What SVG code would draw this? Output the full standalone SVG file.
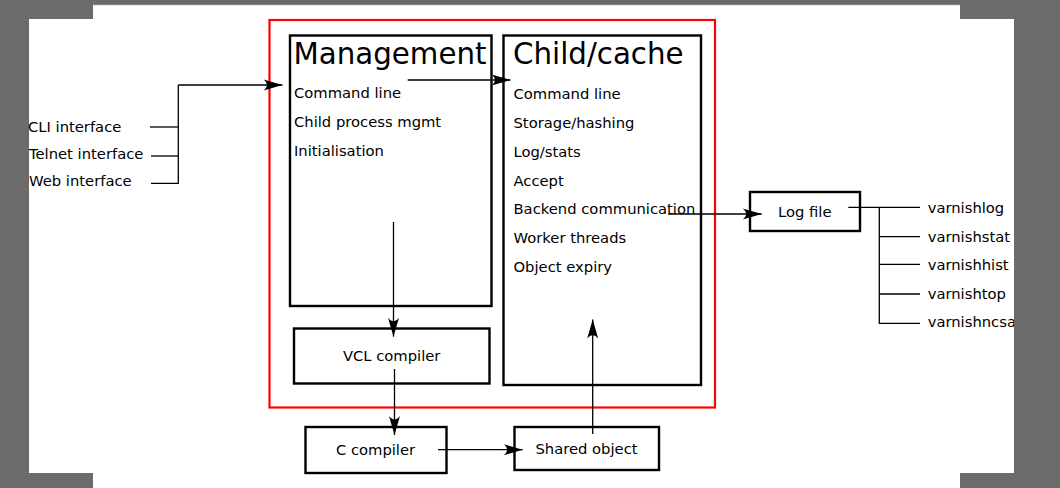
<svg xmlns="http://www.w3.org/2000/svg" width="1060" height="488" viewBox="0 0 1060 488">
<defs>
<style>
text{font-family:"DejaVu Sans","Liberation Sans",sans-serif;font-size:14.75px;fill:#000}
.title{font-size:29.3px}
.box{fill:#fff;stroke:#000;stroke-width:2.4}
.c{text-anchor:middle}
.ln{fill:none;stroke:#000;stroke-width:1.3}
.ar{marker-end:url(#arr)}
</style>
<marker id="arr" markerUnits="userSpaceOnUse" viewBox="-20 -7 21 14" refX="0" refY="0" markerWidth="21" markerHeight="14" orient="auto">
<path d="M0,0 L-19,-5.5 C-14.5,-2 -14.5,2 -19,5.5 Z" fill="#000"/>
</marker>
<clipPath id="clipR"><rect x="0" y="0" width="1014" height="488"/></clipPath>
</defs>
<rect width="1060" height="488" fill="#6b6b6b"/>
<rect x="93" y="5" width="867" height="483" fill="#fff"/>
<rect x="29" y="19" width="985" height="454" fill="#fff"/>
<line x1="93" y1="4.8" x2="960" y2="4.8" stroke="#9a9a9a" stroke-width="0.8"/>

<g id="frame">
<rect x="269.5" y="20" width="445.5" height="387.5" fill="none" stroke="#ff0000" stroke-width="2.2"/>
</g>

<g id="management">
<rect class="box" x="290" y="35.5" width="201.5" height="270.5"/>
<text class="title" x="293.5" y="63.5">Management</text>
<text x="294" y="98">Command line</text>
<text x="294" y="127">Child process mgmt</text>
<text x="294" y="156">Initialisation</text>
</g>

<g id="child">
<rect class="box" x="503.5" y="35.5" width="197.5" height="349.5"/>
<text class="title" x="513" y="64">Child/cache</text>
<text x="513.5" y="99">Command line</text>
<text x="513.5" y="128">Storage/hashing</text>
<text x="513.5" y="156.5">Log/stats</text>
<text x="513.5" y="185.5">Accept</text>
<text x="513.5" y="214">Backend communication</text>
<text x="513.5" y="242.5">Worker threads</text>
<text x="513.5" y="271.5">Object expiry</text>
</g>

<g id="vcl">
<rect class="box" x="294" y="328.5" width="195.5" height="55"/>
<text class="c" x="391.7" y="361">VCL compiler</text>
</g>

<g id="ccompiler">
<rect class="box" x="305.5" y="427" width="141" height="46"/>
<text class="c" x="375.5" y="455">C compiler</text>
</g>

<g id="shared">
<rect class="box" x="514.5" y="427" width="144.5" height="43"/>
<text class="c" x="586.5" y="453.5">Shared object</text>
</g>

<g id="logfile">
<rect class="box" x="750" y="192" width="110" height="39"/>
<text x="778" y="216.5">Log file</text>
</g>

<g id="interfaces">
<text x="28" y="132">CLI interface</text>
<text x="29" y="158.5">Telnet interface</text>
<text x="29" y="185.5">Web interface</text>
</g>

<g id="tools">
<text x="927.7" y="213">varnishlog</text>
<text x="927.7" y="242">varnishstat</text>
<text x="927.7" y="269.5">varnishhist</text>
<text x="927.7" y="298.5">varnishtop</text>
<text x="927.7" y="327" clip-path="url(#clipR)">varnishncsa</text>
</g>

<g id="connectors">
<polyline class="ln" points="150,127 178.3,127"/>
<polyline class="ln" points="151,156 178.3,156"/>
<polyline class="ln" points="151,183.3 178.3,183.3 178.3,85"/>
<polyline class="ln ar" points="178.3,85 282.5,85"/>
<line class="ln ar" x1="407.7" y1="80" x2="510.5" y2="80"/>
<line class="ln ar" x1="393.5" y1="222" x2="393.5" y2="336.7"/>
<line class="ln ar" x1="394.5" y1="369" x2="394.5" y2="435"/>
<line class="ln ar" x1="438" y1="449.7" x2="522.7" y2="449.7"/>
<line class="ln ar" x1="592.7" y1="434" x2="592.7" y2="319.5"/>
<line class="ln ar" x1="668" y1="214" x2="761.7" y2="214"/>
<polyline class="ln" points="848.3,207.3 920,207.3"/>
<polyline class="ln" points="879.3,207.3 879.3,323.3 920,323.3"/>
<line class="ln" x1="879.3" y1="236.7" x2="920" y2="236.7"/>
<line class="ln" x1="879.3" y1="264.3" x2="920" y2="264.3"/>
<line class="ln" x1="879.3" y1="294" x2="920" y2="294"/>
</g>
</svg>
